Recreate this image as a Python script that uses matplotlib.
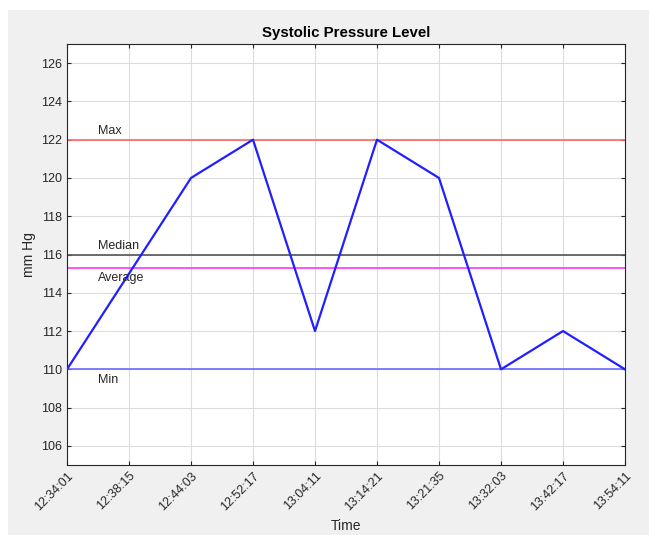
"""Systolic pressure level chart (MATLAB-like)."""

import matplotlib.pyplot as plt
from matplotlib.patches import Rectangle

tempos = ["12:34:01", "12:38:15", "12:44:03", "12:52:17", "13:04:11",
          "13:14:21", "13:21:35", "13:32:03", "13:42:17", "13:54:11"]
sistolica = [110, 115, 120, 122, 112, 122, 120, 110, 112, 110]

ref_nomes = ["Max", "Median", "Average", "Min"]
ref_valores = [122, 116, 115.3, 110]
ref_cores = ["#ff6666", "#555555", "#ff33ff", "#6a6aff"]
ref_offsets = [0.45, 0.45, -0.55, -0.55]

plt.rcParams["font.family"] = ["Liberation Sans", "DejaVu Sans"]

fig = plt.figure(figsize=(6.49, 5.35), dpi=100, facecolor="#f0f0f0")
fig.patches.append(Rectangle((0, 1 - 10 / 535), 1, 10 / 535, transform=fig.transFigure,
                             facecolor="white", edgecolor="none", zorder=-1))
fig.patches.append(Rectangle((0, 0), 8 / 649, 1, transform=fig.transFigure,
                             facecolor="white", edgecolor="none", zorder=-1))

ax = fig.add_axes([67 / 649, 1 - 465 / 535, (625 - 67) / 649, (465 - 44) / 535])
x = list(range(len(tempos)))

for nome, val, cor, off in zip(ref_nomes, ref_valores, ref_cores, ref_offsets):
    ax.axhline(val, color=cor, linewidth=1.2, zorder=2)
    ax.text(0.5, val + off, nome, fontsize=9, color="#262626",
            ha="left", va="center", zorder=4)

ax.plot(x, sistolica, color="#2020ff", linewidth=1.6, zorder=3)

ax.set_xlim(0, len(tempos) - 1)
ax.set_ylim(105, 127)
ax.set_xticks(x)
ax.set_xticklabels(tempos, rotation=45, ha="right", rotation_mode="anchor")
ax.set_yticks(range(106, 127, 2))
ax.tick_params(direction="in", top=True, right=True, labelsize=9,
               colors="#262626", length=3)
ax.grid(True, color="#dcdcdc", linewidth=0.8)
ax.set_axisbelow(True)
for s in ax.spines.values():
    s.set_color("#262626")
    s.set_linewidth(0.8)

ax.set_title("Systolic Pressure Level", fontsize=10.8, fontweight="bold", pad=5)
ax.set_ylabel("mm Hg", fontsize=10, color="#262626")
ax.set_xlabel("Time", fontsize=10, color="#262626")
ax.xaxis.set_label_coords(0.5, -0.128)

fig.savefig("out.png", dpi=100, facecolor=fig.get_facecolor())
